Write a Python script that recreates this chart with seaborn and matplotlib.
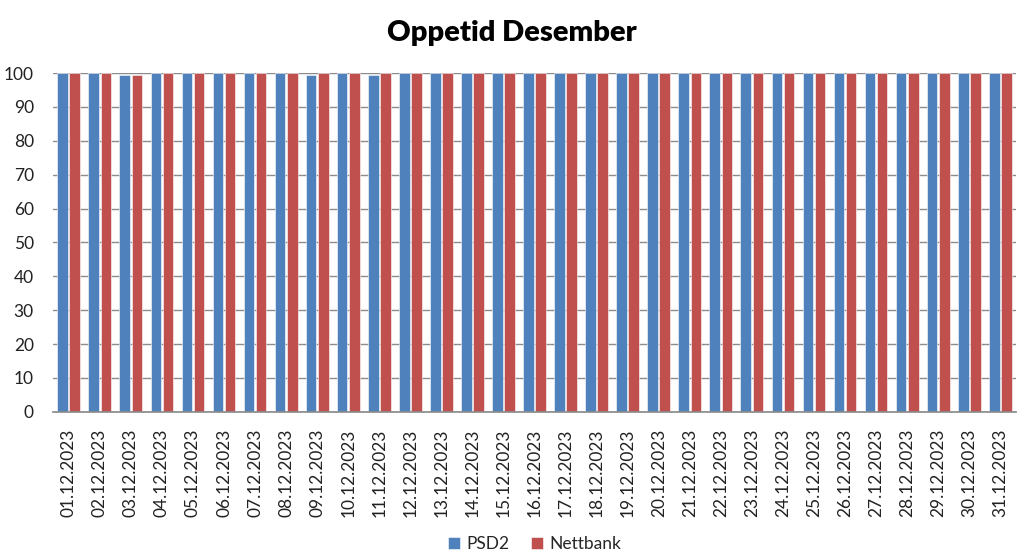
import pandas as pd
import matplotlib.pyplot as plt
import seaborn as sns

sns.set_theme(style="white")
plt.rcParams['font.family'] = ['Lato', 'DejaVu Sans']

dates = [f"{d:02d}.12.2023" for d in range(1, 32)]
psd2 = [100, 100, 99.5, 100, 100, 100, 100, 100, 99.5, 100, 99.5, 100, 100, 100, 100, 100,
        100, 100, 100, 100, 100, 100, 100, 100, 100, 100, 100, 100, 100, 100, 100]
nettbank = [100, 100, 99.5, 100, 100, 100, 100, 100, 100, 100, 100, 100, 100, 100, 100, 100,
            100, 100, 100, 100, 100, 100, 100, 100, 100, 100, 100, 100, 100, 100, 100]

df = pd.DataFrame({'Dato': dates * 2,
                   'Oppetid': psd2 + nettbank,
                   'Tjeneste': ['PSD2'] * 31 + ['Nettbank'] * 31})

fig = plt.figure(figsize=(10.24, 5.58), dpi=100)
ax = fig.add_axes([0.052, 0.262, 0.94, 0.607])
sns.barplot(data=df, x='Dato', y='Oppetid', hue='Tjeneste',
            palette=['#4F81BD', '#C0504D'], saturation=1, width=0.78, gap=0.12,
            edgecolor='white', linewidth=0.4, ax=ax)

ax.set_ylim(0, 100)
ax.set_yticks(range(0, 101, 10))
ax.set_xlim(-0.5, 30.5)
ax.yaxis.grid(True, color='#8C8C8C', linewidth=1)
ax.set_axisbelow(True)
for s in ['top', 'right', 'left']:
    ax.spines[s].set_visible(False)
ax.spines['bottom'].set_color('#8C8C8C')
ax.tick_params(axis='x', rotation=90, labelsize=12.5, colors='#222222', pad=6)
ax.tick_params(axis='y', labelsize=12.5, colors='#222222', pad=8)
ax.set_xlabel('')
ax.set_ylabel('')

fig.suptitle('Oppetid Desember', fontsize=21, fontweight='heavy', color='black', y=0.965)
ax.legend(loc='lower center', bbox_to_anchor=(0.5, -0.46), ncol=2, frameon=False,
          fontsize=12.5, handlelength=0.7, handleheight=0.7, columnspacing=1.2,
          handletextpad=0.4)

fig.savefig('out.png', dpi=100)
